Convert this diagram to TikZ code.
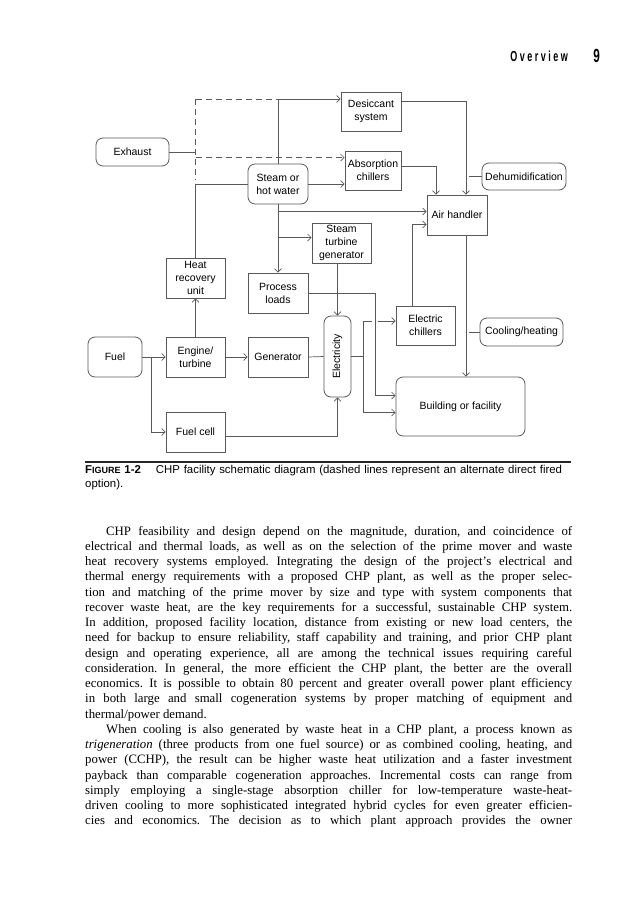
\documentclass[tikz,border=0pt]{standalone}
\usepackage{fontspec}
\setmainfont{Liberation Serif}
\setsansfont{Liberation Sans}
\usepackage{graphicx}
\usetikzlibrary{arrows.meta,positioning}

\begin{document}
\begin{tikzpicture}[x=1pt,y=-1pt,
  every node/.style={font=\sffamily\fontsize{10.5}{13}\selectfont},
  >={Straight Barb[length=3.5pt,width=7pt]},
  line/.style={draw=black!65,line width=0.7pt},
  blk/.style={draw=black!65,line width=0.8pt,minimum width=59pt,minimum height=40pt,align=center,inner sep=1pt},
  rblk/.style={blk,rounded corners=7pt},
  alt/.style={line,dash pattern=on 6pt off 4pt}]
\useasboundingbox (0,0) rectangle (621,900);

\node[anchor=base east,inner sep=0] (hdr) at (568,61)
  {\scalebox{0.62}[1]{\fontsize{14.5}{14.5}\selectfont\bfseries O\kern4pt v\kern4pt e\kern4pt r\kern4pt v\kern4pt i\kern4pt e\kern4pt w}};
\node[anchor=base east,inner sep=0] (pg) at (600,62)
  {\scalebox{0.62}[1]{\fontsize{19}{19}\selectfont\bfseries 9}};

\node[blk,minimum width=60pt,minimum height=39pt] (desic) at (371,111.5) {Desiccant\\system};
\node[blk,minimum width=56pt,minimum height=39pt] (absorb) at (373,170.5) {Absorption\\chillers};
\node[rblk,minimum width=84pt,minimum height=27pt] (dehum) at (524,176.5) {Dehumidification};
\node[blk,minimum width=60pt] (airh) at (457,215) {Air handler};
\node[blk] (stg) at (341.5,243) {Steam\\turbine\\generator};
\node[rblk,minimum width=73pt,minimum height=28pt] (exh) at (132.5,152) {Exhaust};
\node[rblk,minimum width=60pt] (steam) at (278,184) {Steam or\\hot water};
\node[blk] (heat) at (195.5,278) {Heat\\recovery\\unit};
\node[blk,minimum width=60pt] (proc) at (278,293) {Process\\loads};
\node[rblk,minimum width=27pt,minimum height=81pt] (elec) at (337.5,356.5) {\rotatebox{90}{Electricity}};
\node[blk,minimum height=39pt] (echill) at (425.5,325.5) {Electric\\chillers};
\node[rblk,minimum width=83pt,minimum height=28pt] (cool) at (521.5,332) {Cooling/heating};
\node[rblk,minimum width=129pt,minimum height=59pt] (bldg) at (460.5,406.5) {Building or facility};
\node[rblk,minimum width=54pt] (fuel) at (115,357) {Fuel};
\node[blk] (eng) at (195.5,357) {Engine/\\turbine};
\node[blk,minimum width=60pt] (gen) at (278,357) {Generator};
\node[blk] (fcell) at (195.5,432) {Fuel cell};

\coordinate (dtop) at (195.5,99);
\coordinate (dbot) at (195.5,180);
\coordinate (ab1) at ([yshift=-7pt]absorb.north west);
\coordinate (pj) at (375,0);
\coordinate (ebus) at (363,321);
\coordinate (hopa) at (372,321);
\coordinate (hopb) at (378,321);
\coordinate (ahx) at (466,0);
\coordinate (abx) at (436,0);
\coordinate (ecx) at (412,0);
\coordinate (dh) at (469,0);
\coordinate (fj) at (151,357);

\draw[line] (exh.east) -- (exh.east -| dtop);
\draw[alt] (dtop) -- (dbot);
\draw[alt] (dtop) -- (steam.north |- dtop);
\draw[alt,->] (dtop |- ab1) -- (ab1);
\draw[line,->] (steam.north) |- (desic.west |- dtop);
\draw[line] (steam.west) -| (heat.north);
\draw[line,->] (steam.east) -- (absorb.west |- steam.east);
\draw[line,->] (steam.south) -- (proc.north);
\draw[line,->] (steam.south) |- ([yshift=-17pt]airh.north west);
\draw[line,->] (steam.south) |- ([yshift=-15pt]stg.north west);
\draw[line,->] (elec.north |- stg.south) -- (elec.north);
\draw[line,->] ([yshift=-10pt]desic.north east) -| (ahx |- airh.north);
\draw[line,->] ([yshift=-16pt]absorb.north east) -| (abx |- airh.north);
\draw[line] (dehum.west) -- (dh |- dehum.west);
\draw[line,->] (ecx |- echill.north) |- ([yshift=-30pt]airh.north west);
\draw[line,->] (ahx |- airh.south) -- (ahx |- bldg.north);
\draw[line] (cool.west) -- (dh |- cool.west);
\draw[line,->] (proc.east) -- (pj |- proc.east) |- ([yshift=-19pt]bldg.north west);
\draw[line] (elec.east) -- (ebus |- elec.east);
\draw[line] (ebus) -- (hopa);
\draw[line,->] (hopb) -- (echill.west |- hopb);
\draw[line,->] (ebus) |- ([yshift=-36pt]bldg.north west);
\draw[line,->] (fuel.east) -- (eng.west);
\draw[line,->] (fj) |- (fcell.west);
\draw[line,->] (eng.north) -- (heat.south);
\draw[line,->] (eng.east) -- (gen.west);
\draw[line] (gen.east) -- (elec.west);
\draw[line,->] ([yshift=-25pt]fcell.north east) -| (elec.south);

\draw[line width=1.3pt,black!85] (85,462) -- (571,462);
\node[anchor=north west,inner sep=0,text width=487pt,align=left,font=\sffamily\fontsize{11.4}{14}\selectfont] (cap) at (85,465)
  {\textbf{F{\fontsize{9}{14}\selectfont IGURE} 1-2}\hspace{15pt}CHP facility schematic diagram (dashed lines represent an alternate direct fired\\option).};

\node[anchor=north west,inner sep=0,text width=487pt,align=justify,font=\rmfamily\fontsize{12.8}{15.25}\selectfont] (body) at (85,526)
  {\parindent=0pt\frenchspacing
  \hspace*{21pt}CHP feasibility and design depend on the magnitude, duration, and coincidence of\linebreak
  electrical and thermal loads, as well as on the selection of the prime mover and waste\linebreak
  heat recovery systems employed. Integrating the design of the project's electrical and\linebreak
  thermal energy requirements with a proposed CHP plant, as well as the proper selec-\linebreak
  tion and matching of the prime mover by size and type with system components that\linebreak
  recover waste heat, are the key requirements for a successful, sustainable CHP system.\linebreak
  In addition, proposed facility location, distance from existing or new load centers, the\linebreak
  need for backup to ensure reliability, staff capability and training, and prior CHP plant\linebreak
  design and operating experience, all are among the technical issues requiring careful\linebreak
  consideration. In general, the more efficient the CHP plant, the better are the overall\linebreak
  economics. It is possible to obtain 80 percent and greater overall power plant efficiency\linebreak
  in both large and small cogeneration systems by proper matching of equipment and\linebreak
  thermal/power demand.\par
  \hspace*{21pt}When cooling is also generated by waste heat in a CHP plant, a process known as\linebreak
  \emph{trigeneration} (three products from one fuel source) or as combined cooling, heating, and\linebreak
  power (CCHP), the result can be higher waste heat utilization and a faster investment\linebreak
  payback than comparable cogeneration approaches. Incremental costs can range from\linebreak
  simply employing a single-stage absorption chiller for low-temperature waste-heat-\linebreak
  driven cooling to more sophisticated integrated hybrid cycles for even greater efficien-\linebreak
  cies and economics. The decision as to which plant approach provides the owner\parfillskip=0pt\par};
\end{tikzpicture}
\end{document}
